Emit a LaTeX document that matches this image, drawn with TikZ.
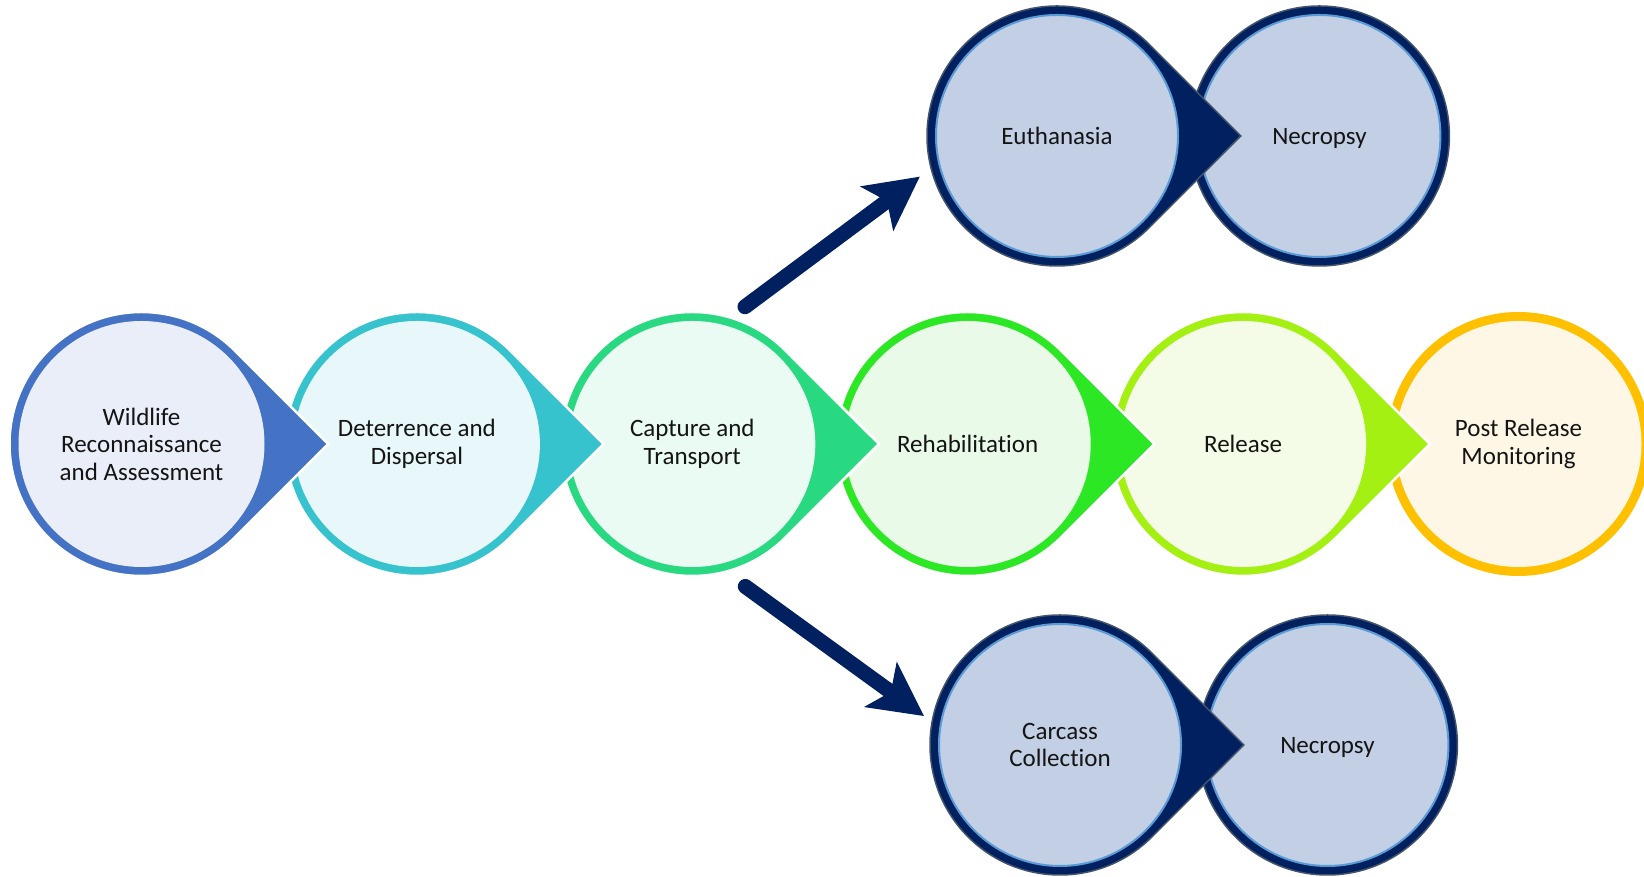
\documentclass[tikz,border=0pt]{standalone}
\usepackage{fontspec}
\setmainfont{Carlito}[Ligatures=NoCommon]
\usepackage{tikz}
\usetikzlibrary{arrows.meta, positioning, calc}
\definecolor{reconblue}{HTML}{4472C4}
\definecolor{reconfill}{HTML}{EAEEF8}
\definecolor{deterteal}{HTML}{37C3CE}
\definecolor{deterfill}{HTML}{E8F8FA}
\definecolor{capturegreen}{HTML}{29D981}
\definecolor{capturefill}{HTML}{E9FBF2}
\definecolor{rehabgreen}{HTML}{2CE824}
\definecolor{rehabfill}{HTML}{E9FBE8}
\definecolor{releaselime}{HTML}{A4F012}
\definecolor{releasefill}{HTML}{F4FCE8}
\definecolor{monitororange}{HTML}{FFC000}
\definecolor{monitorfill}{HTML}{FFF7E6}
\definecolor{navyring}{HTML}{002060}
\definecolor{navyfill}{HTML}{C2CFE4}
\definecolor{navyline}{HTML}{5B9BD5}
\definecolor{navyedge}{HTML}{44546A}
\definecolor{inktext}{HTML}{141414}

\pgfdeclarelayer{back}
\pgfsetlayers{back,main}

% ring + pointed tip towards the next step
\newcommand{\droplet}[3]{%
  \filldraw[fill=#2, draw=white, line width=2.5pt] ($(#1)+(45:132pt)$) arc[start angle=45, end angle=315, radius=132pt] -- ($(#1)+(186.7pt,0)$) -- cycle;
  \fill[#3] (#1) circle[radius=123pt];
}
\newcommand{\ringonly}[3]{%
  \fill[#2] (#1) circle[radius=132pt];
  \fill[#3] (#1) circle[radius=123pt];
}
% dark blue versions
\newcommand{\navydrop}[1]{%
  \filldraw[fill=navyring, draw=navyedge, line width=1.5pt] ($(#1)+(45:130pt)$) arc[start angle=45, end angle=315, radius=130pt] -- ($(#1)+(183.8pt,0)$) -- cycle;
  \filldraw[fill=navyfill, draw=navyline, line width=2pt] (#1) circle[radius=121pt];
}
\newcommand{\navyring}[1]{%
  \filldraw[fill=navyring, draw=navyedge, line width=1.5pt] (#1) circle[radius=130pt];
  \filldraw[fill=navyfill, draw=navyline, line width=2pt] (#1) circle[radius=121pt];
}

\begin{document}
\begin{tikzpicture}[
    x=1pt, y=1pt,
    node distance=13pt,
    stage/.style={circle, minimum size=262pt, inner sep=0pt, align=center, text=inktext, font=\fontsize{25}{27.5}\selectfont},
    bigarrow/.style={-{Stealth[length=53pt, width=54pt, inset=12pt]}, line width=15pt, line cap=round, navyring}
]
\useasboundingbox (0,0) rectangle (1644,877);

% main row
\node[stage] (recon) at (141.5,433) {Wildlife\\Reconnaissance\\and Assessment};
\node[stage, right=of recon] (deter) {Deterrence and\\Dispersal};
\node[stage, right=of deter] (capture) {Capture and\\Transport};
\node[stage, right=of capture] (rehab) {Rehabilitation};
\node[stage, right=of rehab] (release) {Release};
\node[stage, right=of release] (monitor) {Post Release\\Monitoring};

% branches
\node[stage] (euth) at (1057,741) {Euthanasia};
\node[stage, text depth=0pt, right=0pt of euth] (necroA) {Necropsy};
\node[stage] (carcass) at (1060,132) {Carcass\\Collection};
\node[stage, text depth=0pt, right=5pt of carcass] (necroB) {Necropsy};

\begin{pgfonlayer}{back}
  \ringonly{monitor}{monitororange}{monitorfill}
  \droplet{release}{releaselime}{releasefill}
  \droplet{rehab}{rehabgreen}{rehabfill}
  \droplet{capture}{capturegreen}{capturefill}
  \droplet{deter}{deterteal}{deterfill}
  \droplet{recon}{reconblue}{reconfill}
  \navyring{necroA}
  \navydrop{euth}
  \navyring{necroB}
  \navydrop{carcass}
\end{pgfonlayer}

\coordinate (upTail) at ($(capture)+(69:147)$);
\coordinate (upTip) at ($(euth)+(196.5:143)$);
\coordinate (downTail) at ($(capture)+(-69.6:152)$);
\coordinate (downTip) at ($(carcass)+(168:139)$);
\draw[bigarrow] (upTail) -- (upTip);
\draw[bigarrow] (downTail) -- (downTip);

\end{tikzpicture}
\end{document}
